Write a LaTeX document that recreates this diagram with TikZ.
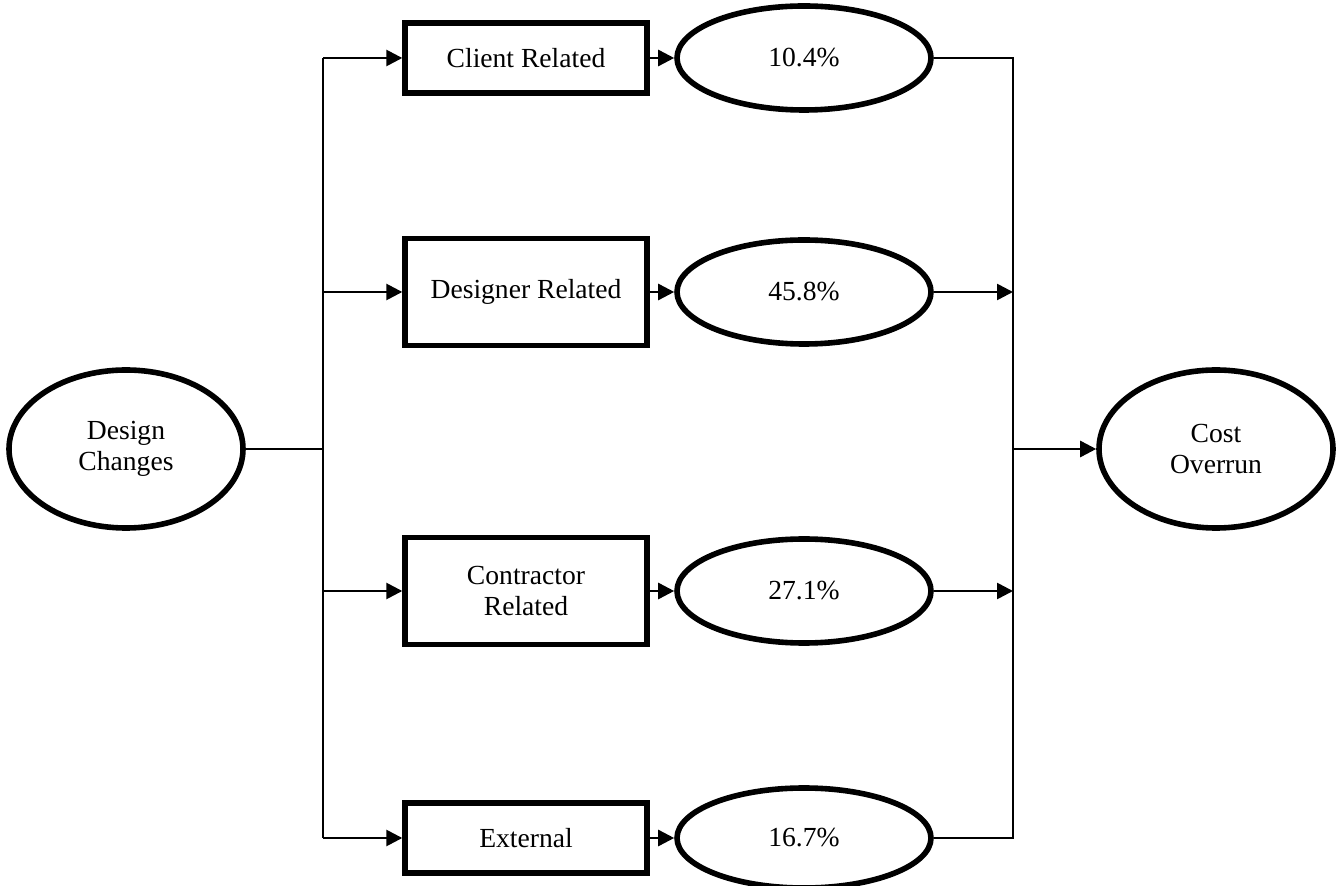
\documentclass[tikz,border=0pt]{standalone}
\usepackage{fontspec}
\setmainfont{Liberation Serif}
\usetikzlibrary{shapes.geometric,arrows.meta}
\begin{document}
\begin{tikzpicture}[x=0.5pt,y=-0.5pt,
  txt/.style={font=\fontsize{13.8}{15.5}\selectfont,align=center,inner sep=0pt},
  oval/.style={txt,draw,ellipse,line width=2.8pt},
  bigoval/.style={oval,minimum width=117pt,minimum height=79pt},
  pct/.style={oval,minimum width=127pt,minimum height=52pt},
  rbox/.style={txt,draw,rectangle,line width=2.7pt,minimum width=121pt},
  lowbox/.style={rbox,minimum height=35pt},
  tallbox/.style={rbox,minimum height=53.5pt},
  conn/.style={line width=1.3pt},
  arr/.style={conn,-{Triangle[length=8pt,width=8pt]}}]
\useasboundingbox (0,0) rectangle (1337,886);

\node[bigoval] (dc) at (126,449) {Design\\Changes};
\node[bigoval] (co) at (1216,449) {Cost\\Overrun};

\node[lowbox]  (b1) at (526,58)  {Client Related};
\node[tallbox] (b2) at (526,292) {Designer Related};
\node[tallbox] (b3) at (526,591) {Contractor\\Related};
\node[lowbox]  (b4) at (526,838) {External};

\node[pct] (p1) at (804,58)  {10.4\%};
\node[pct] (p2) at (804,292) {45.8\%};
\node[pct] (p3) at (804,591) {27.1\%};
\node[pct,minimum height=50pt] (p4) at (804,838) {16.7\%};

\coordinate (l1) at (323,58);
\coordinate (l2) at (323,292);
\coordinate (l3) at (323,591);
\coordinate (l4) at (323,838);
\coordinate (lm) at (323,449);
\coordinate (r1) at (1013,58);
\coordinate (r2) at (1013,292);
\coordinate (r3) at (1013,591);
\coordinate (r4) at (1013,838);
\coordinate (rm) at (1013,449);

\draw[conn] (dc.east) -- (lm);
\draw[conn] (l1) -- (l4);
\foreach \i in {1,2,3,4}{
  \draw[arr] (l\i) -- (b\i.west);
  \draw[arr] (b\i.east) -- (p\i.west);
}
\draw[conn] (p1.east) -- (r1) -- (r4) -- (p4.east);
\draw[arr] (p2.east) -- (r2);
\draw[arr] (p3.east) -- (r3);
\draw[arr] (rm) -- (co.west);
\end{tikzpicture}
\end{document}
